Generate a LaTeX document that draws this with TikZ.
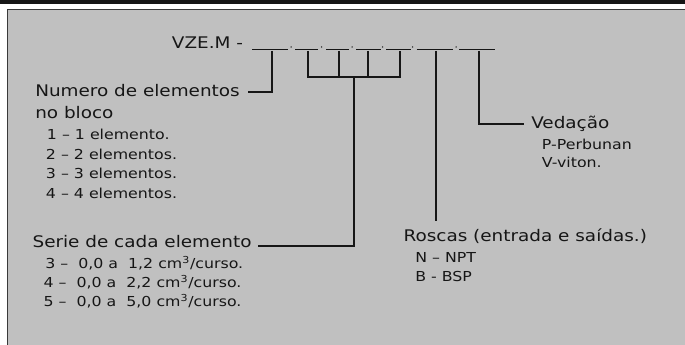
\documentclass[tikz,border=0pt]{standalone}
\usepackage{fontspec}
\setmainfont{DejaVu Sans}[FakeStretch=1.15]
\definecolor{panel}{RGB}{192,192,192}
\definecolor{ink}{RGB}{22,22,22}
\begin{document}
\begin{tikzpicture}[x=0.75pt,y=-0.75pt,
  big/.style={font=\fontsize{12}{14}\selectfont, inner sep=0pt, anchor=base west, text=ink},
  small/.style={font=\fontsize{10.3}{12}\selectfont, inner sep=0pt, anchor=base west, text=ink},
  conn/.style={line width=1.5pt, draw=ink},
  blank/.style={line width=0.8pt, draw=ink},
  dotmark/.style={fill=ink}]
\useasboundingbox (0,0) rectangle (685,345);
% frame
\fill[ink] (0,0) rectangle (685,4.3);
\fill[panel] (7,9) rectangle (685,345);
\draw[line width=1.2pt, draw=ink!85] (7.6,345) -- (7.6,9.6) -- (685,9.6);

% code line
\node[big] (vze) at (171.7,48.3) {VZE.M -};
\draw[blank] (252.3,49.3) -- (288.3,49.3);
\draw[blank] (295,49.3) -- (318.3,49.3);
\draw[blank] (326,49.3) -- (349.3,49.3);
\draw[blank] (356,49.3) -- (380.7,49.3);
\draw[blank] (386,49.3) -- (410.7,49.3);
\draw[blank] (416.7,49.3) -- (453.3,49.3);
\draw[blank] (459.3,49.3) -- (495,49.3);
\foreach \dx in {291,321.7,352.2,382.7,412.7,456}
  \fill[dotmark] (\dx,47) circle (0.75);

% connector start points
\coordinate (c1) at (271.7,51);
\coordinate (c2) at (307.7,51);
\coordinate (c3) at (339,51);
\coordinate (c4) at (368.3,51);
\coordinate (c5) at (400,51);
\coordinate (c6) at (436,51);
\coordinate (c7) at (479.3,51);
\coordinate (g2) at (307.7,76.7);
\coordinate (g5) at (400,76.7);
\coordinate (gm) at (353.9,76.7);
\coordinate (nE) at (248,91.7);
\coordinate (sE) at (258.3,246);
\coordinate (rT) at (436,220.7);
\coordinate (vE) at (524,124.3);

% labels
\node[big] (numero) at (35,96.7) {Numero de elementos};
\node[big] (nobloco) at (35,118.3) {no bloco};
\node[small] (n1) at (46.7,139.3) {1 – 1 elemento.};
\node[small] (n2) at (45.7,159.3) {2 – 2 elementos.};
\node[small] (n3) at (45.7,178.3) {3 – 3 elementos.};
\node[small] (n4) at (45.7,198.3) {4 – 4 elementos.};

\node[big] (serie) at (32.3,247.3) {Serie de cada elemento};
\node[small] (s3) at (45,268.3) {3 –\ \ 0,0 a\ \ 1,2 cm\textsuperscript{3}/curso.};
\node[small] (s4) at (43.3,287.3) {4 –\ \ 0,0 a\ \ 2,2 cm\textsuperscript{3}/curso.};
\node[small] (s5) at (43.3,306) {5 –\ \ 0,0 a\ \ 5,0 cm\textsuperscript{3}/curso.};

\node[big] (roscas) at (403.3,241.7) {Roscas (entrada e saídas.)};
\node[small] (rN) at (415,262.3) {N – NPT};
\node[small] (rB) at (415,281.7) {B - BSP};

\node[big] (vedacao) at (531,128.3) {Vedação};
\node[small] (vP) at (541.7,149.3) {P-Perbunan};
\begin{scope}
  \clip (530,152) rectangle (650,166.8);
  \node[small] (vV) at (541.7,167.6) {V-viton.};
\end{scope}

% connectors
\draw[conn] (c1) |- (nE);
\draw[conn] (c2) -- (g2) -- (g5) -- (c5);
\draw[conn] (c3) -- (c3 |- g2);
\draw[conn] (c4) -- (c4 |- g2);
\draw[conn] (gm) |- (sE);
\draw[conn] (c6) -- (rT);
\draw[conn] (c7) |- (vE);
\end{tikzpicture}
\end{document}
